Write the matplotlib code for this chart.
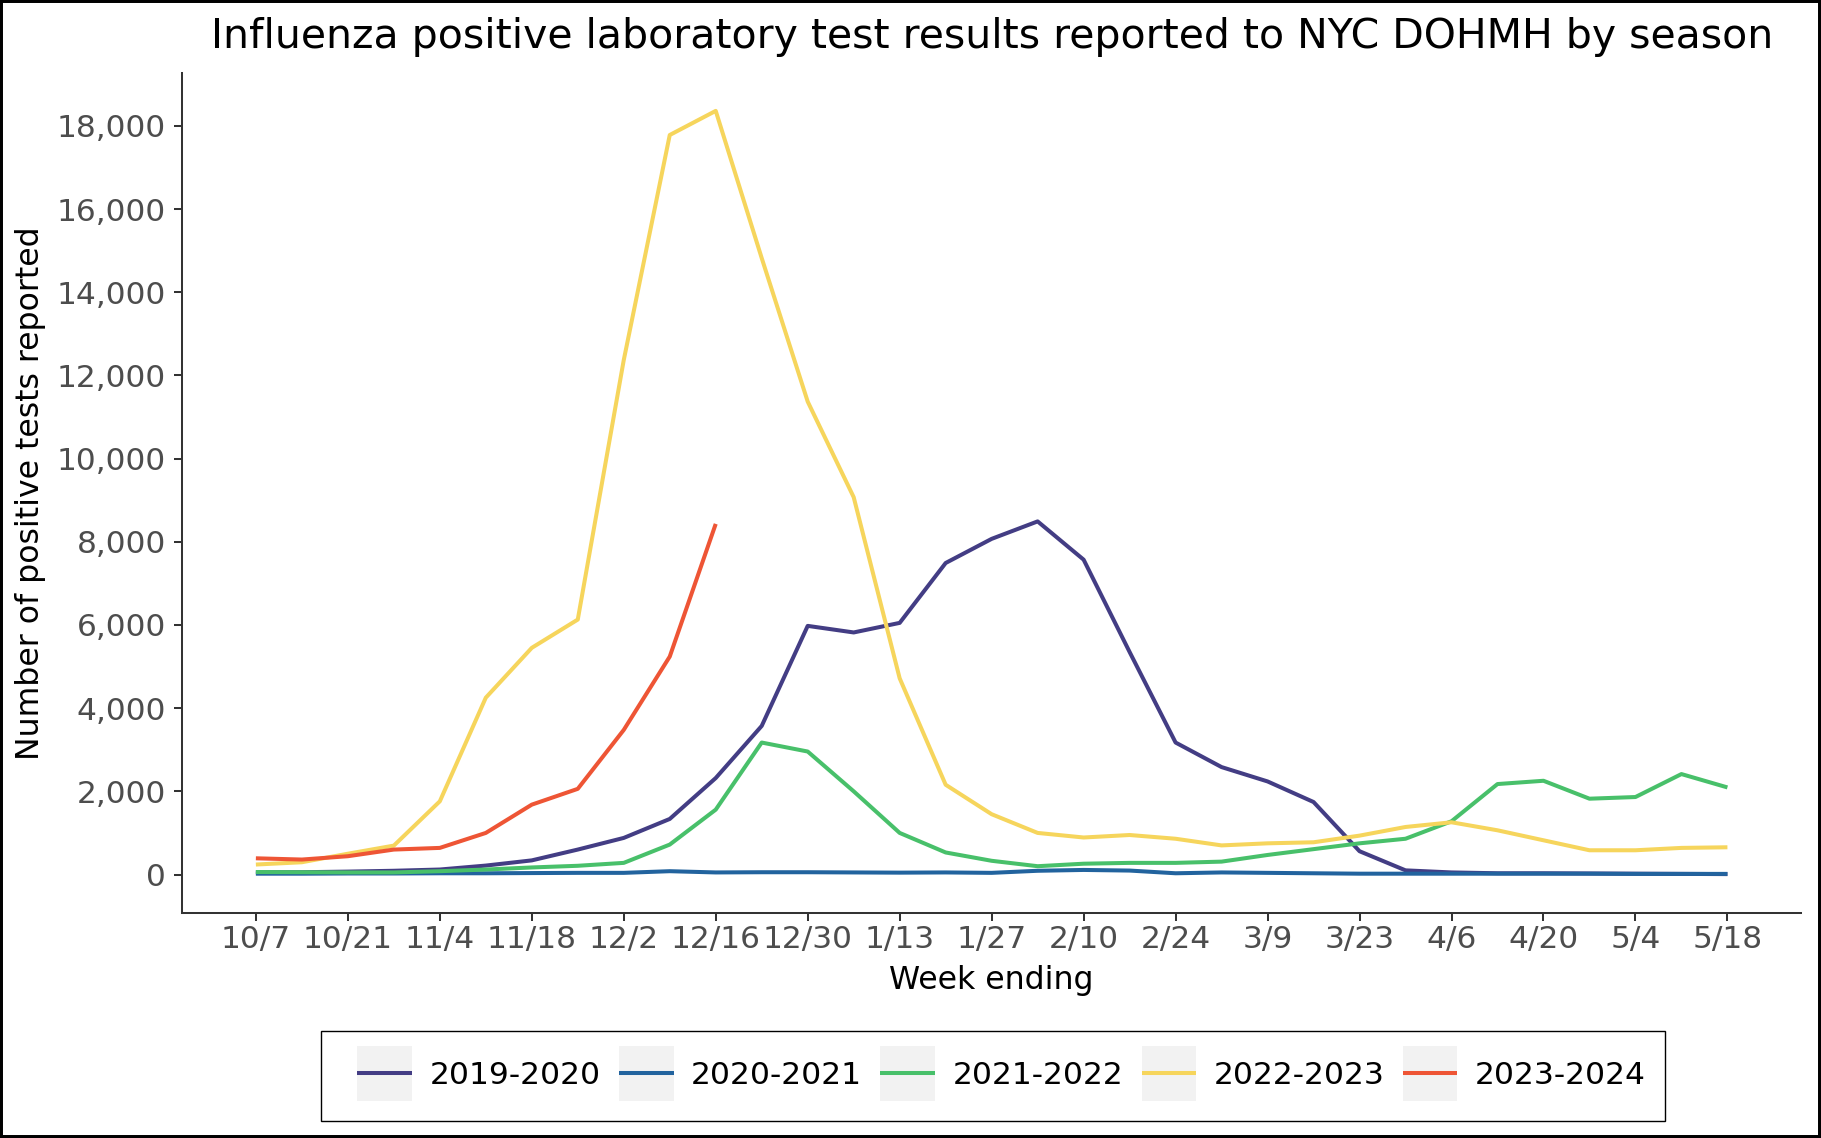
import matplotlib
matplotlib.use("Agg")
import matplotlib.pyplot as plt
import numpy as np
from matplotlib.patches import Rectangle
from matplotlib.legend_handler import HandlerLine2D
from matplotlib.ticker import FuncFormatter

plt.rcParams['font.family'] = ['DejaVu Sans']

weeks = ["10/7", "10/14", "10/21", "10/28", "11/4", "11/11", "11/18", "11/25",
         "12/2", "12/9", "12/16", "12/23", "12/30", "1/6", "1/13", "1/20", "1/27",
         "2/3", "2/10", "2/17", "2/24", "3/2", "3/9", "3/16", "3/23", "3/30", "4/6",
         "4/13", "4/20", "4/27", "5/4", "5/11", "5/18"]

seasons = ["2019-2020", "2020-2021", "2021-2022", "2022-2023", "2023-2024"]

s2019_2020 = [55, 55, 70, 90, 120, 215, 340, 600, 880, 1336, 2320, 3573, 5978, 5820,
              6050, 7490, 8070, 8490, 7570, 5350, 3173, 2583, 2238, 1743, 560, 100,
              50, 30, 30, 25, 20, 15, 10]
s2020_2021 = [20, 20, 25, 25, 30, 30, 35, 40, 40, 80, 50, 55, 55, 50, 45, 50, 40,
              90, 110, 95, 30, 50, 40, 30, 20, 20, 20, 20, 20, 20, 15, 15, 15]
s2021_2022 = [60, 55, 50, 50, 80, 120, 170, 210, 280, 720, 1560, 3173, 2957, 2000,
              1000, 530, 330, 200, 260, 280, 280, 310, 470, 610, 750, 860, 1280,
              2175, 2254, 1823, 1863, 2415, 2094]
s2022_2023 = [240, 295, 500, 695, 1760, 4252, 5450, 6130, 12370, 17780, 18360, 14820,
              11370, 9072, 4717, 2158, 1450, 1000, 890, 950, 860, 700, 750, 775, 935,
              1143, 1256, 1063, 823, 583, 583, 640, 655]
s2023_2024 = [390, 360, 440, 600, 640, 1000, 1680, 2060, 3477, 5240, 8430]

series = [s2019_2020, s2020_2021, s2021_2022, s2022_2023, s2023_2024]
colors = ["#433D84", "#22639E", "#48C06A", "#F6D55C", "#EE5535"]

W, H = 1821, 1138
fig = plt.figure(figsize=(W / 100, H / 100), dpi=100)
ax = fig.add_axes([182.3 / W, 1 - 912.7 / H, (1801 - 182.3) / W, (912.7 - 72.7) / H])

x_all = np.arange(len(weeks))
handles = []
for name, vals, c in zip(seasons, series, colors):
    ln, = ax.plot(x_all[:len(vals)], vals, color=c, lw=2.9, label=name,
                  solid_capstyle='butt', solid_joinstyle='round')
    handles.append(ln)

ymax = max(max(s) for s in series)
ax.set_ylim(-0.05 * ymax, ymax * 1.05)
n = len(weeks) - 1
ax.set_xlim(-0.05 * n, n * 1.05)

ax.set_yticks(np.arange(0, 18001, 2000))
ax.yaxis.set_major_formatter(FuncFormatter(lambda v, p: f"{v:,.0f}"))
ax.set_xticks(x_all[::2])
ax.set_xticklabels(weeks[::2])

for side in ["top", "right"]:
    ax.spines[side].set_visible(False)
for side in ["left", "bottom"]:
    ax.spines[side].set_color("#333333")
    ax.spines[side].set_linewidth(1.45)

ax.tick_params(axis='both', length=5.8, width=1.45, color="#333333",
               labelsize=22.5, labelcolor="#4D4D4D")
ax.tick_params(axis='x', pad=3)
ax.tick_params(axis='y', pad=6)

fig.text(991.7 / W, 1 - 48.3 / H,
         "Influenza positive laboratory test results reported to NYC DOHMH by season",
         ha='center', va='baseline', fontsize=29.5, color='black')
fig.text(991.7 / W, 1 - 989 / H, "Week ending", ha='center', va='baseline',
         fontsize=22.7, color='black')
fig.text(31 / W, 1 - 492.7 / H, "Number of positive tests reported", ha='center',
         va='center', rotation=90, fontsize=22.7, color='black')

LEG_FS = 22.6
KEY_H = 1.74


class KeyHandler(HandlerLine2D):
    def create_artists(self, legend, orig_handle, xdescent, ydescent, width, height,
                       fontsize, trans):
        liney = (height - ydescent) / 2.0
        kh = KEY_H * fontsize
        rect = Rectangle((-xdescent, liney - kh / 2.0), width, kh, facecolor='#F2F2F2',
                         edgecolor='none', transform=trans)
        arts = super().create_artists(legend, orig_handle, xdescent, ydescent, width,
                                      height, fontsize, trans)
        return [rect] + list(arts)


leg_cx = 1001.7 / W
leg_cy = 1 - (1030.7 + 1121) / 2 / H
leg = fig.legend(handles=handles, labels=seasons, loc='center',
                 bbox_to_anchor=(leg_cx, leg_cy), ncol=5, frameon=False,
                 fontsize=LEG_FS, handlelength=1.74, handleheight=0.7,
                 handletextpad=0.56, columnspacing=0.58, borderpad=0,
                 handler_map={h: KeyHandler(marker_pad=0.19) for h in handles})

fig.patches.append(Rectangle((320.5 / W, 1 - 1121 / H), (1665 - 320.5) / W,
                             (1121 - 1030.7) / H, transform=fig.transFigure,
                             facecolor='none', edgecolor='black', lw=1.0))
fig.patches.append(Rectangle((0, 0), 1, 1, transform=fig.transFigure,
                             facecolor='none', edgecolor='black', lw=4.3))

fig.savefig("out.png", dpi=100)
